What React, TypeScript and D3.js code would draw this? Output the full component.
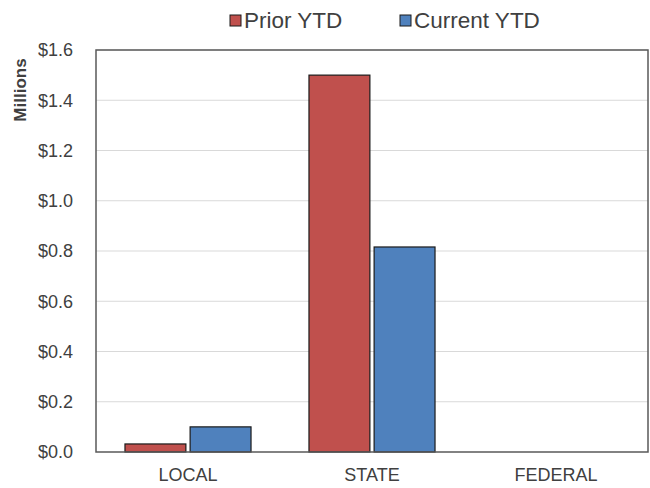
import * as d3 from 'd3'

const categories = ['LOCAL', 'STATE', 'FEDERAL']
const priorYtd = [0.032, 1.5, 0]
const currentYtd = [0.1, 0.816, 0]
const seriesNames = ['Prior YTD', 'Current YTD']
const seriesColors = ['#C0504D', '#4F81BD']
const yTicks = [0, 0.2, 0.4, 0.6, 0.8, 1.0, 1.2, 1.4, 1.6]

export default function App() {
  const width = 650
  const height = 488
  const margin = { top: 50, right: 2, bottom: 36, left: 96 }
  const font = 'Liberation Sans, Arial, sans-serif'
  const textColor = '#404040'

  const x = d3.scaleBand()
    .domain(categories)
    .range([margin.left, width - margin.right])
    .paddingInner(0.315)
    .paddingOuter(0.1575)

  const x1 = d3.scaleBand()
    .domain(seriesNames)
    .range([0, x.bandwidth()])
    .paddingInner(0.065)

  const y = d3.scaleLinear()
    .domain([0, 1.6])
    .range([height - margin.bottom, margin.top])

  const series = [priorYtd, currentYtd]
  const legendX = [230, 400]

  return (
    <svg width={width} height={height} style={{ position: 'absolute', left: 0, top: 0 }}>
      <rect width={width} height={height} fill="#fff" />
      {yTicks.slice(1).map(t => (
        <line key={t} x1={margin.left} x2={width - margin.right} y1={y(t)} y2={y(t)}
          stroke="#d9d9d9" strokeWidth={1} />
      ))}
      {categories.map((c, i) =>
        series.map((s, j) => s[i] > 0 ? (
          <rect key={c + j}
            x={x(c)! + x1(seriesNames[j])!}
            y={y(s[i])}
            width={x1.bandwidth()}
            height={y(0) - y(s[i])}
            fill={seriesColors[j]}
            stroke="#1a1a1a"
            strokeWidth={1.2} />
        ) : null)
      )}
      <rect x={margin.left} y={margin.top} width={width - margin.right - margin.left}
        height={height - margin.bottom - margin.top} fill="none" stroke="#595959" strokeWidth={1.5} />
      {yTicks.map(t => (
        <text key={t} x={margin.left - 23} y={y(t)} dy="0.35em" textAnchor="end"
          fontFamily={font} fontSize={18} fill={textColor}>
          {'$' + d3.format('.1f')(t)}
        </text>
      ))}
      {categories.map(c => (
        <text key={c} x={x(c)! + x.bandwidth() / 2} y={height - 7} textAnchor="middle"
          fontFamily={font} fontSize={18} fill={textColor}>{c}</text>
      ))}
      <text transform={`translate(26, 90) rotate(-90)`} textAnchor="middle"
        fontFamily={font} fontSize={17} fontWeight="bold" fill={textColor}>Millions</text>
      {seriesNames.map((n, j) => {
        const lx = legendX[j]
        return (
          <g key={n}>
            <rect x={lx} y={15} width={11} height={11} fill={seriesColors[j]} stroke="#1a1a1a" strokeWidth={1} />
            <text x={lx + 14} y={28} fontFamily={font} fontSize={22.5} fill={textColor}>{n}</text>
          </g>
        )
      })}
    </svg>
  )
}
